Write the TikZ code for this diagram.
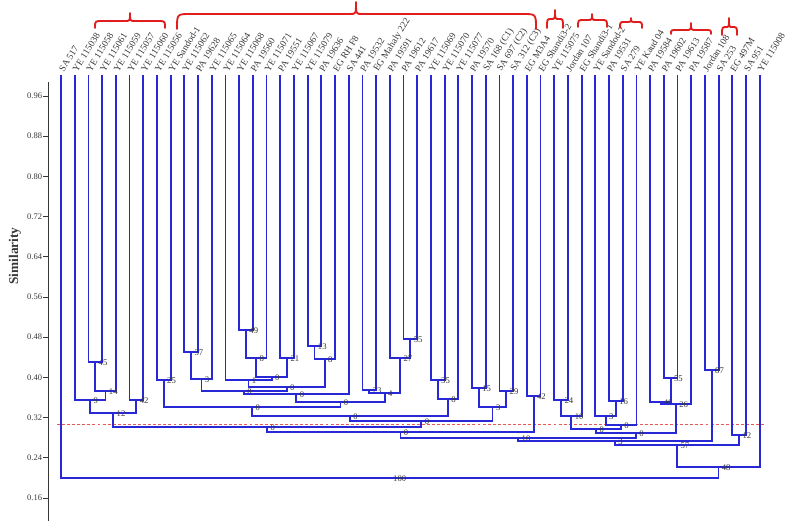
\documentclass[tikz,border=0pt]{standalone}
\usepackage{fontspec}
\setmainfont{Liberation Serif}
\definecolor{brblue}{RGB}{40,40,215}
\definecolor{brred}{RGB}{225,30,30}
\definecolor{txtgray}{RGB}{55,55,55}
\definecolor{cutred}{RGB}{230,90,90}
\begin{document}
\begin{tikzpicture}[x=0.75pt,y=-0.75pt,
  branch/.style={draw=brblue,line width=1.35pt},
  leaflab/.style={font=\fontsize{7.1}{8}\selectfont,text=txtgray,rotate=58,anchor=west,inner sep=0pt},
  numlab/.style={font=\fontsize{6.5}{7}\selectfont,text=txtgray,anchor=west,inner sep=0.4pt,xshift=2pt,yshift=-0.8pt},
  ticklab/.style={font=\fontsize{6.4}{7}\selectfont,text=txtgray,anchor=east,inner sep=0.5pt},
  bracestyle/.style={draw=brred,line width=1.4pt,line cap=round,line join=round},
  axisline/.style={draw=txtgray,line width=0.6pt},
  cutline/.style={draw=cutred,line width=0.6pt,dash pattern=on 2.2pt off 1.6pt}]
\useasboundingbox (0,0) rectangle (787,521);

% axis
\coordinate (axtop) at (48,82);
\coordinate (axbot) at (48,521);
\draw[axisline] (axtop) -- (axbot);
\foreach \s [count=\k] in {0.96,0.88,0.80,0.72,0.64,0.56,0.48,0.40,0.32,0.24,0.16} {
  \coordinate (tk\k) at (48,{96+(\k-1)*40.2});
  \coordinate (tl\k) at (43,{96+(\k-1)*40.2});
  \draw[axisline] (tk\k) -- (tl\k);
  \node[ticklab] (tt\k) at (tl\k) {\s};
}
\node[font=\fontsize{10}{11}\selectfont\bfseries,text=txtgray,rotate=90] (ylab) at (15,256) {Similarity};

% cut line
\coordinate (cutl) at (57,424);
\coordinate (cutr) at (766,424);
\draw[cutline] (cutl) -- (cutr);

% leaves
\foreach \i/\t in {1/SA 517,2/YE 115038,3/YE 115058,4/YE 115061,5/YE 115059,6/YE 115057,7/YE 115060,8/YE 115056,9/YE Sandod-1,10/YE 115062,11/PA 19628,12/YE 115065,13/YE 115064,14/YE 115068,15/PA 19560,16/YE 115071,17/PA 19551,18/YE 115067,19/YE 115079,20/PA 19636,21/EG RH F8,22/SA 441,23/PA 19532,24/EG Mahaly 222,25/PA 19591,26/PA 19612,27/PA 19617,28/YE 115069,29/YE 115070,30/YE 115077,31/PA 19570,32/SA 168 (C1),33/SA 697 (C2),34/SA 312 (C3),35/EG M3A4,36/EG Shandi3-2,37/YE 115075,38/Jordan 107,39/EG Shandi3-1,40/YE Sandod-2,41/PA 19531,42/SA 279,43/YE Kaud 04,44/PA 19584,45/PA 19602,46/PA 19613,47/PA 19587,48/Jordan 108,49/SA 253,50/EG 497M,51/SA 951,52/YE 115008} {
  \coordinate (l\i) at ({61+(\i-1)*13.7},75);
  \node[leaflab] (lab\i) at ({61+(\i-1)*13.7},71) {\t};
}

% merges
\foreach \m/\a/\b/\x/\y/\t in {
m45/l3/l4/95.25/362/45,
m14/m45/l5/105.5/391/14,
m9/l2/m14/90.1/400/9,
m42a/l6/l7/136.35/400/42,
m12/m9/m42a/113.2/413/12,
m25/l8/l9/163.75/380/25,
m37/l10/l11/191.15/352/37,
m3a/m37/l12/201.4/379/3,
m49/l14/l15/245.95/330/49,
m8a/m49/l16/256.2/358/8,
m21/l17/l18/287.05/358/21,
m0a/m8a/m21/271.6/377/0,
m1/l13/m0a/248.5/380/1,
m13/l19/l20/314.45/346/13,
m8b/m13/l21/324.7/359/8,
m0b/m1/m8b/286.6/387/0,
m0c/m3a/m0b/244/391/0,
m0d/m0c/l22/296.35/394/0,
m23/l23/l24/369.25/390/23,
m55a/l26/l27/410.35/339/55,
m27/l25/m55a/400.1/358/27,
m4/m23/m27/384.7/393/4,
m0e/m0d/m4/340.5/402/0,
m0f/m25/m0e/252.1/407/0,
m35/l28/l29/437.75/380/35,
m8c/m35/l30/448/399/8,
m0g/m0f/m8c/350/416/0,
m15/l31/l32/478.85/388/15,
m29/l33/l34/506.25/391/29,
m3b/m15/m29/492.55/407/3,
m0h/m0g/m3b/421.3/421/0,
m0i/m12/m0h/267.25/427/0,
m42b/l35/l36/533.65/396/42,
m0j/m0i/m42b/400.45/432/0,
m24/l37/l38/561.05/400/24,
m10a/m24/l39/571.3/416/10,
m16/l41/l42/615.85/401/16,
m3c/l40/m16/605.6/416/3,
m0k/m3c/l43/621/425/0,
m0l/m10a/m0k/596.15/429/0,
m55b/l45/l46/670.65/378/55,
m46/l44/m55b/660.4/402/46,
m26/m46/l47/675.8/404/26,
m0m/m0l/m26/636/433/0,
m10b/m0j/m0m/518.2/438/10,
m87/l48/l49/711.75/370/87,
m3d/m10b/m87/615/441/3,
m12b/l50/l51/739.15/435/12,
m57/m3d/m12b/677.1/445/57,
m48/m57/l52/718.4/467/48,
m100/l1/m48/389.7/478/100} {
  \coordinate (\m) at (\x,\y);
  \draw[branch] (\a) |- (\m) -| (\b);
  \node[numlab] (t\m) at (\m) {\t};
}

% red braces
\foreach \xa/\xb/\xm/\yb/\yh/\yt/\r/\rt in {
95/165/130/28/21/13/7/5,
177/536/356/29/14/2/13/6,
547/563/555/28/19/10/4/4,
578/607/592/27/20/14/6/5,
620/642/631/28/22/18/5/5,
671/711/691/34/30/23/6/5,
722/737/729/35/27/18/5/3} {
  \draw[bracestyle] (\xa,\yb) .. controls (\xa,\yh) .. ({\xa+\r},\yh) -- ({\xm-\rt},\yh) .. controls (\xm,\yh) .. (\xm,\yt) .. controls (\xm,\yh) .. ({\xm+\rt},\yh) -- ({\xb-\r},\yh) .. controls (\xb,\yh) .. (\xb,\yb);
}
\end{tikzpicture}
\end{document}
